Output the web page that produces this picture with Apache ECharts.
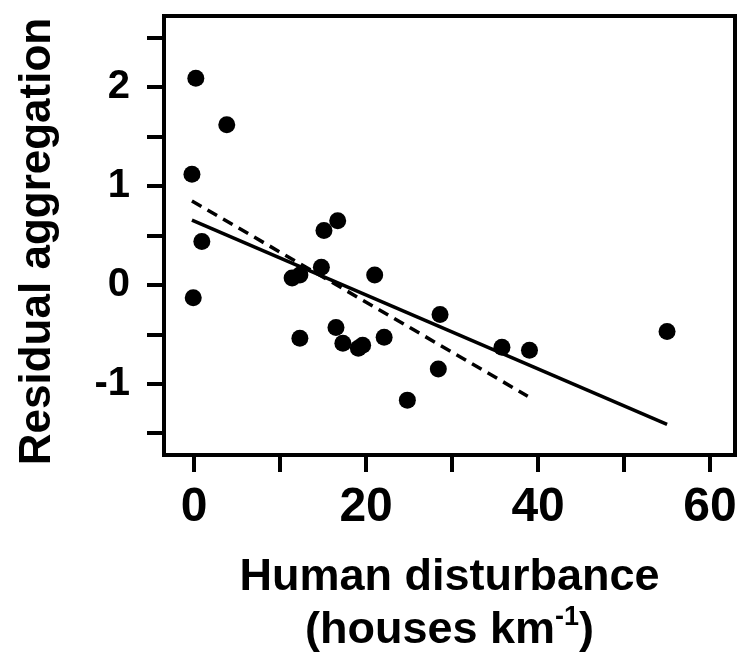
<!DOCTYPE html>
<html>
<head>
<meta charset="utf-8">
<script src="https://cdn.jsdelivr.net/npm/echarts@6/dist/echarts.min.js"></script>
<style>
html,body{margin:0;padding:0;background:#fff;}
#chart{width:739px;height:668px;}
</style>
</head>
<body>
<div id="chart"></div>
<script>
// Data
const disturbance = [0.2, 3.8, -0.25, 0.9, -0.1, 15.1, 16.7, 11.4, 12.3, 14.8, 21.0, 28.6, 16.5, 12.3, 17.3, 19.1, 19.6, 22.1, 28.4, 24.8, 35.8, 39.0, 55.0];
const residualAggregation = [2.09, 1.62, 1.12, 0.44, -0.13, 0.55, 0.65, 0.07, 0.10, 0.18, 0.10, -0.30, -0.43, -0.54, -0.59, -0.64, -0.61, -0.53, -0.85, -1.165, -0.63, -0.66, -0.47];
const solidFitX = [-0.25, 55.0];
const solidFitY = [0.655, -1.41];
const dashedFitX = [-0.25, 38.8];
const dashedFitY = [0.85, -1.125];
const xTickValues = [0, 10, 20, 30, 40, 50, 60];
const xTickLabels = [0, 20, 40, 60];
const yTickValues = [-1.5, -1, -0.5, 0, 0.5, 1, 1.5, 2, 2.5];
const yTickLabels = [-1, 0, 1, 2];
const xTitle = 'Human disturbance';
const xUnit = '(houses km';
const xUnitSup = '-1';
const yTitle = 'Residual aggregation';

const pts = disturbance.map((x, i) => [x, residualAggregation[i]]);
const solid = solidFitX.map((x, i) => [x, solidFitY[i]]);
const dashed = dashedFitX.map((x, i) => [x, dashedFitY[i]]);

const FONT = '"Liberation Sans", Arial, Helvetica, sans-serif';
const chart = echarts.init(document.getElementById('chart'), null, {renderer: 'canvas'});
chart.setOption({
  animation: false,
  backgroundColor: '#fff',
  grid: {left: 164, right: 4, top: 16, bottom: 213, containLabel: false, outerBoundsMode: 'none',
         show: true, borderColor: '#000', borderWidth: 4, backgroundColor: 'transparent'},
  xAxis: {
    type: 'value', min: -3.5, max: 62.9,
    axisLine: {show: false, onZero: false},
    splitLine: {show: false},
    axisTick: {show: true, inside: false, length: 17, lineStyle: {color: '#000', width: 4}, customValues: xTickValues},
    axisLabel: {show: true, margin: 29, color: '#000', fontSize: 48, fontWeight: 'bold', fontFamily: FONT, customValues: xTickLabels, formatter: v => String(v)},
    name: '{a|' + xTitle + '}\n{a|' + xUnit + '}{s|' + xUnitSup + '}{a|)}',
    nameLocation: 'middle', nameGap: 96,
    nameTextStyle: {color: '#000', fontFamily: FONT, rich: {
      a: {fontSize: 45, fontWeight: 'bold', fontFamily: FONT, color: '#000', lineHeight: 53},
      s: {fontSize: 27, fontWeight: 'bold', fontFamily: FONT, color: '#000', lineHeight: 30, verticalAlign: 'top'}
    }}
  },
  yAxis: {
    type: 'value', min: -1.72, max: 2.72,
    axisLine: {show: false, onZero: false},
    splitLine: {show: false},
    axisTick: {show: true, inside: false, length: 17, lineStyle: {color: '#000', width: 4}, customValues: yTickValues},
    axisLabel: {show: true, margin: 34, color: '#000', fontSize: 40, fontWeight: 'bold', fontFamily: FONT, customValues: yTickLabels, formatter: v => String(v)},
    name: yTitle, nameLocation: 'middle', nameGap: 104, nameRotate: 90,
    nameTextStyle: {color: '#000', fontSize: 44, fontWeight: 'bold', fontFamily: FONT, padding: [0, 12, 0, 0]}
  },
  series: [
    {type: 'scatter', data: pts, symbol: 'circle', symbolSize: 17, itemStyle: {color: '#000', opacity: 1}, z: 3},
    {type: 'line', data: solid, symbol: 'none', lineStyle: {color: '#000', width: 3.5, type: 'solid'}, z: 4},
    {type: 'line', data: dashed, symbol: 'none', lineStyle: {color: '#000', width: 3.5, type: [11, 7]}, z: 4}
  ]
});
</script>
</body>
</html>
